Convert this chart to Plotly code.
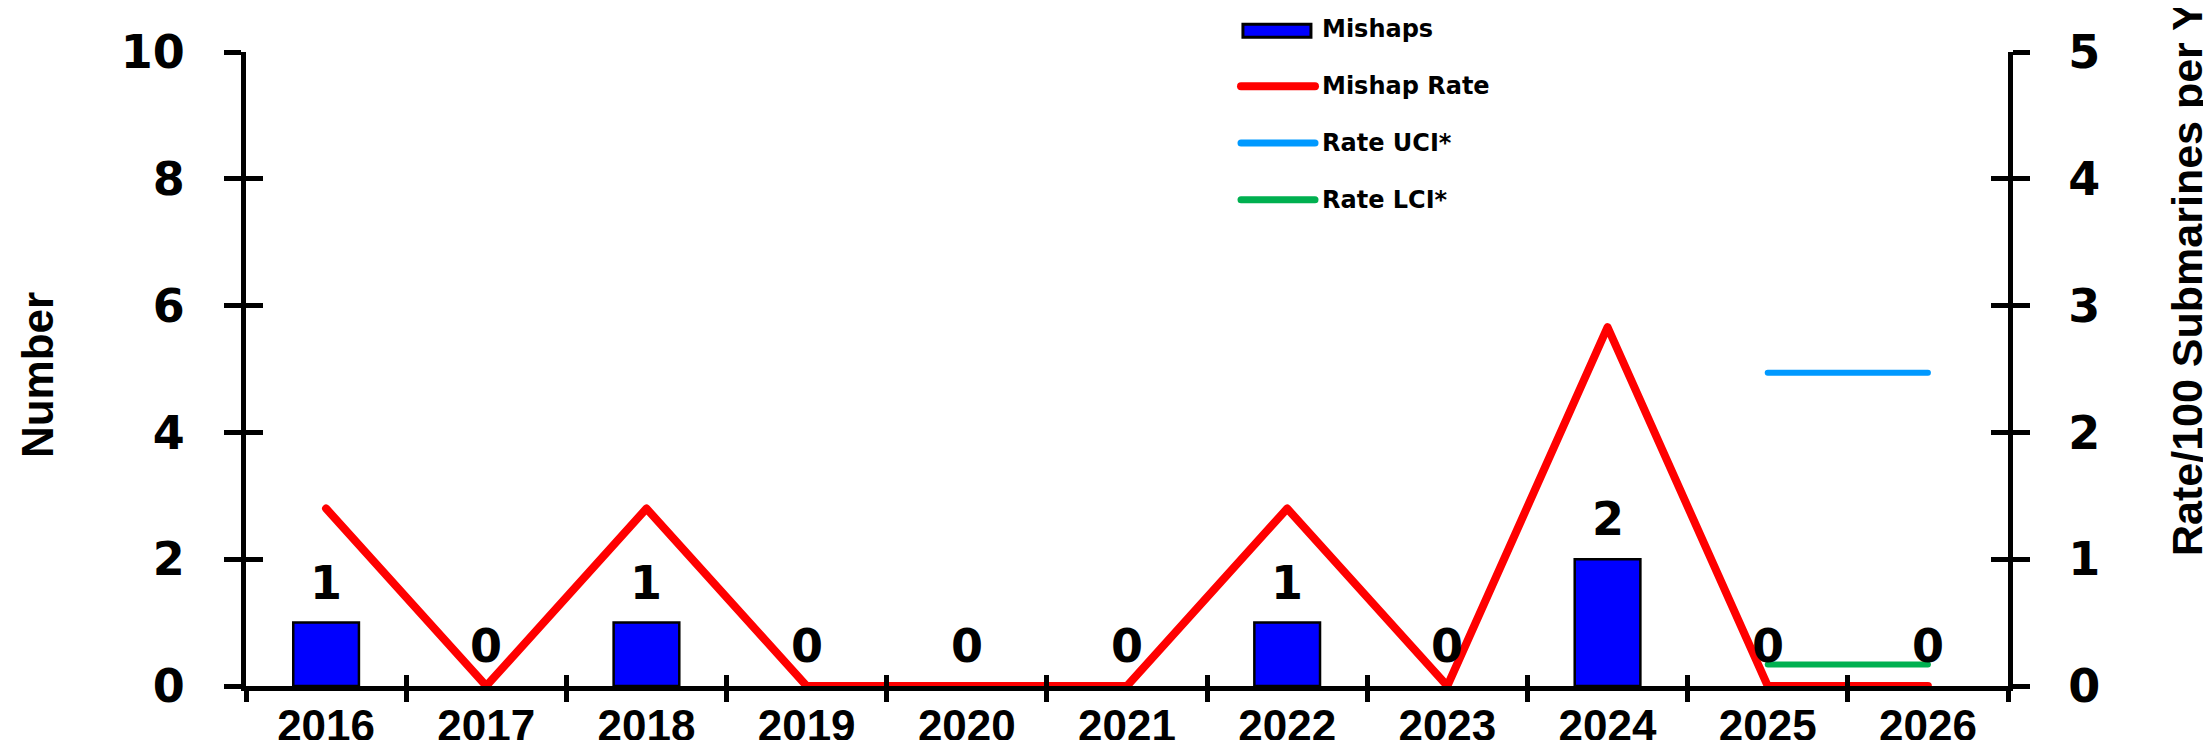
import plotly.graph_objects as go

years = ["2016", "2017", "2018", "2019", "2020", "2021", "2022", "2023", "2024", "2025", "2026"]
mishaps = [1, 0, 1, 0, 0, 0, 1, 0, 2, 0, 0]
mishap_rate = [1.40, 0, 1.40, 0, 0, 0, 1.40, 0, 2.83, 0, 0]
rate_uci = [None, None, None, None, None, None, None, None, None, 2.47, 2.47]
rate_lci = [None, None, None, None, None, None, None, None, None, 0.17, 0.17]
left_ticks = [0, 2, 4, 6, 8, 10]
right_ticks = [0, 1, 2, 3, 4, 5]

legend_names = ["Mishaps", "Mishap Rate", "Rate UCI*", "Rate LCI*"]
legend_colors = ["#0000FF", "#FF0000", "#0099FF", "#00B050"]

ARIAL = "Liberation Sans, Arial, sans-serif"
DEJAVU = "DejaVu Sans, sans-serif"
BLACK = "#000000"

fig = go.Figure()

fig.add_trace(go.Bar(
    x=years, y=mishaps, width=0.41, name="Mishaps",
    marker=dict(color="#0000FF",
                line=dict(color=BLACK, width=[2.5 if v > 0 else 0 for v in mishaps])),
    showlegend=False, xaxis="x", yaxis="y",
))
fig.add_trace(go.Scatter(
    x=years, y=mishap_rate, mode="lines", name="Mishap Rate",
    line=dict(color="#FF0000", width=8), cliponaxis=False,
    showlegend=False, xaxis="x", yaxis="y2",
))
fig.add_trace(go.Scatter(
    x=years, y=rate_uci, mode="lines", name="Rate UCI*",
    line=dict(color="#0099FF", width=6), cliponaxis=False,
    showlegend=False, xaxis="x", yaxis="y2",
))
fig.add_trace(go.Scatter(
    x=years, y=rate_lci, mode="lines", name="Rate LCI*",
    line=dict(color="#00B050", width=6), cliponaxis=False,
    showlegend=False, xaxis="x", yaxis="y2",
))
# invisible helpers for the inside half of the crossing ticks
fig.add_trace(go.Scatter(x=years, y=mishaps, mode="markers", marker=dict(opacity=0),
                         hoverinfo="skip", showlegend=False, xaxis="x3", yaxis="y3"))
fig.add_trace(go.Scatter(x=years, y=mishap_rate, mode="markers", marker=dict(opacity=0),
                         hoverinfo="skip", showlegend=False, xaxis="x3", yaxis="y4"))

# value labels above bars (category index used as position)
for i, v in enumerate(mishaps):
    fig.add_annotation(x=i, y=v, xref="x", yref="y", text=str(v), showarrow=False,
                       yanchor="bottom", yshift=11,
                       font=dict(family=DEJAVU, size=46, color=BLACK, weight="bold"))

common_tick = dict(tickcolor=BLACK, tickwidth=4.5, showgrid=False, zeroline=False,
                   automargin=False)

fig.update_layout(
    width=2211, height=740,
    margin=dict(l=238, r=211, t=44, b=62),
    paper_bgcolor="white", plot_bgcolor="white",
    showlegend=False,
    xaxis=dict(type="category", categoryorder="array", categoryarray=years,
               range=[-0.5, 10.5], tickson="boundaries", ticks="outside", ticklen=11,
               showline=True, linecolor=BLACK, linewidth=5, layer="below traces",
               tickfont=dict(family=ARIAL, size=44, color=BLACK, weight="bold"),
               ticklabelstandoff=-3, **common_tick),
    xaxis3=dict(type="category", categoryorder="array", categoryarray=years,
                overlaying="x", anchor="y", range=[-0.5, 10.5], tickson="boundaries",
                ticks="inside", ticklen=11, showticklabels=False, showline=False,
                **common_tick),
    yaxis=dict(range=[0, 10], tickvals=left_ticks, ticks="outside", ticklen=17,
               showline=True, linecolor=BLACK, linewidth=5,
               tickfont=dict(family=DEJAVU, size=46, color=BLACK, weight="bold"),
               ticklabelstandoff=30, **common_tick),
    yaxis2=dict(range=[0, 5], tickvals=right_ticks, overlaying="y", side="right",
                anchor="x", ticks="outside", ticklen=17,
                showline=True, linecolor=BLACK, linewidth=5,
                tickfont=dict(family=DEJAVU, size=46, color=BLACK, weight="bold"),
                ticklabelstandoff=29, **common_tick),
    yaxis3=dict(range=[0, 10], tickvals=left_ticks, overlaying="y", anchor="x",
                ticks="inside", ticklen=17, showticklabels=False, showline=False,
                **common_tick),
    yaxis4=dict(range=[0, 5], tickvals=right_ticks, overlaying="y", side="right",
                anchor="x", ticks="inside", ticklen=17, showticklabels=False,
                showline=False, **common_tick),
)

# axis titles
fig.add_annotation(xref="paper", yref="paper", x=-0.1186, y=0.4905, text="Number",
                   textangle=-90, showarrow=False, xanchor="center", yanchor="middle",
                   font=dict(family=ARIAL, size=44, color=BLACK, weight="bold"))
fig.add_annotation(xref="paper", yref="paper", x=1.1016, y=0.6909,
                   text="Rate/100 Submarines per Year",
                   textangle=-90, showarrow=False, xanchor="center", yanchor="middle",
                   font=dict(family=ARIAL, size=43, color=BLACK, weight="bold"))

# legend (drawn manually to reproduce long symbols)
leg_x0, leg_x1, leg_tx = 0.5647, 0.6067, 0.6095
leg_rows = [1.0336, 0.9459, 0.8565, 0.7670]
for i, (name, col, yy) in enumerate(zip(legend_names, legend_colors, leg_rows)):
    if i == 0:
        fig.add_shape(type="rect", xref="paper", yref="paper",
                      x0=leg_x0 + 0.0011, x1=0.6044, y0=yy - 0.0103, y1=yy + 0.0103,
                      fillcolor=col, line=dict(color=BLACK, width=3))
    else:
        fig.add_shape(type="line", xref="paper", yref="paper",
                      x0=leg_x0, x1=leg_x1, y0=yy, y1=yy,
                      line=dict(color=col, width=8 if i == 1 else 7))
    fig.add_annotation(xref="paper", yref="paper", x=leg_tx, y=yy, text=name,
                       showarrow=False, xanchor="left", yanchor="middle",
                       yshift=2 if i == 0 else 0,
                       font=dict(family=DEJAVU, size=24, color=BLACK, weight="bold"))

post = ("var s=document.createElement('style');"
        "s.innerHTML='.js-line{stroke-linejoin:round;stroke-linecap:round}"
        " .shapelayer path{stroke-linecap:round}';"
        "document.head.appendChild(s);")
fig.write_html("out.html", post_script=post)
